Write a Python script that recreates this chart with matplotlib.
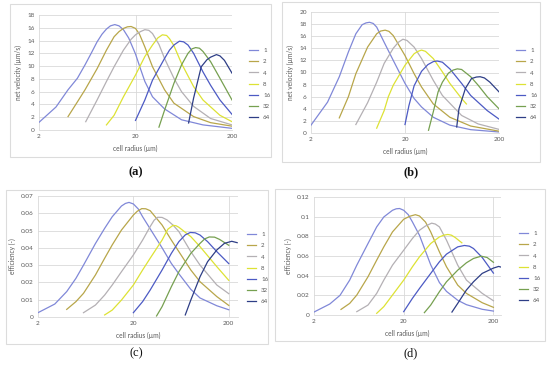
import matplotlib.pyplot as plt
from matplotlib.patches import Rectangle

series = ["1", "2", "4", "8", "16", "32", "64"]
colors = ["#8088d8", "#b8a64a", "#b4b0b4", "#dde234", "#4c5ac4", "#76a050", "#2e3e86"]

# (a) net velocity
a_x = [
    [2, 3, 4, 5, 6, 7, 8, 9, 10, 11, 12.2, 13.5, 15, 17, 20, 22.5, 25, 30, 40, 60, 100, 200],
    [4, 5, 6, 8, 10, 12, 13.5, 15, 16.5, 18, 20, 22, 25, 30, 40, 50, 80, 120, 200],
    [6.1, 8, 10, 12, 15, 18, 20, 22.5, 25, 27.5, 30, 35, 40, 50, 60, 80, 120, 200],
    [10, 12, 15, 20, 25, 30, 34, 38, 42, 45, 50, 60, 80, 100, 150, 200],
    [20, 25, 30, 40, 45, 50, 57, 63, 70, 80, 100, 120, 150, 200],
    [35, 40, 50, 60, 70, 77, 84, 92, 100, 120, 150, 200],
    [71, 80, 96, 110, 120, 138, 150, 167, 200],
]
a_y = [
    [1.2, 3.6, 6.3, 8.1, 10.2, 12.1, 13.8, 15.0, 15.8, 16.3, 16.5, 16.3, 15.7, 14.4, 11.9, 9.6, 7.6, 5.2, 3.3, 1.6, 0.8, 0.26],
    [2.1, 4.4, 6.3, 9.6, 12.5, 14.6, 15.4, 15.9, 16.15, 16.2, 15.9, 15.0, 13.0, 9.9, 6.3, 4.2, 2.1, 1.15, 0.6],
    [1.3, 4.7, 7.6, 9.9, 12.5, 14.2, 14.9, 15.4, 15.7, 15.6, 15.1, 13.4, 11.2, 8.1, 6.0, 3.7, 1.8, 0.8],
    [0.8, 2.3, 5.2, 8.6, 11.5, 13.3, 14.4, 14.9, 14.8, 14.3, 13.2, 10.4, 6.8, 4.7, 2.3, 1.3],
    [1.5, 4.7, 7.8, 11.2, 12.5, 13.3, 13.9, 13.8, 13.3, 12.0, 9.1, 7.0, 4.7, 2.45],
    [0.45, 3.1, 7.3, 10.2, 12.0, 12.7, 12.9, 12.8, 12.3, 10.7, 8.1, 4.7],
    [1.1, 5.0, 9.9, 11.0, 11.4, 11.8, 11.6, 10.9, 8.9],
]

# (b) net velocity
b_x = [
    [2, 3, 4, 5, 6, 7, 7.7, 8.4, 9.2, 10, 12, 15, 20, 25, 30, 40, 60, 100, 200],
    [4, 5, 6, 8, 10, 11, 12.3, 13.5, 15, 20, 25, 30, 40, 60, 100, 200],
    [6, 8, 10, 12, 15, 17, 19, 21, 25, 30, 40, 50, 80, 120, 200],
    [10, 12, 13.3, 15, 20, 25, 27.5, 30, 33, 40, 50, 60, 80, 90],
    [20, 22, 25, 30, 35, 40, 44, 50, 60, 80, 100, 150, 200],
    [35.6, 40, 45, 50, 58, 65, 72, 80, 100, 120, 150, 200],
    [71, 75, 88, 102, 115, 126, 140, 160, 200],
]
b_y = [
    [1.3, 5.1, 9.3, 13.4, 16.4, 17.9, 18.2, 18.3, 18.1, 17.5, 15.0, 12.0, 8.2, 5.7, 4.3, 2.6, 1.3, 0.55, 0.17],
    [2.5, 6.0, 9.8, 14.2, 16.4, 16.85, 17.0, 16.8, 16.1, 12.8, 9.8, 7.6, 4.8, 2.6, 1.15, 0.3],
    [1.4, 5.0, 8.4, 11.5, 14.0, 15.0, 15.5, 15.3, 14.2, 12.3, 8.7, 6.2, 2.9, 1.5, 0.6],
    [0.8, 3.7, 6.0, 7.9, 11.2, 13.1, 13.5, 13.7, 13.5, 12.3, 10.1, 8.2, 5.7, 4.8],
    [1.4, 4.5, 7.8, 10.2, 11.3, 11.8, 11.9, 11.7, 10.6, 8.2, 6.2, 3.7, 2.3],
    [0.45, 3.5, 6.8, 8.4, 9.9, 10.4, 10.6, 10.5, 9.3, 7.9, 6.0, 4.0],
    [1.0, 4.0, 7.4, 9.0, 9.25, 9.3, 9.1, 8.4, 6.8],
]

# (c) efficiency
c_x = [
    [2, 3, 4, 5, 6, 8, 10, 12, 15, 16.5, 18, 20, 22.5, 25, 30, 40, 50, 60, 80, 100, 150, 200],
    [4, 5, 6, 8, 10, 12, 15, 20, 22, 24.5, 27, 30, 40, 50, 60, 80, 100, 150, 200],
    [6, 8, 10, 12, 15, 20, 25, 30, 33, 36, 40, 45, 52, 60, 80, 100, 150, 200],
    [10, 12, 15, 20, 25, 30, 40, 46, 52, 56, 60, 80, 100, 150, 200],
    [20, 25, 30, 40, 50, 60, 70, 79, 89, 100, 120, 150, 200],
    [35, 40, 50, 60, 80, 100, 112, 125, 142, 160, 200],
    [70, 80, 100, 120, 150, 180, 215, 245],
]
c_y = [
    [0.0025, 0.0075, 0.0147, 0.0224, 0.030, 0.0425, 0.0513, 0.058, 0.0642, 0.0657, 0.0663, 0.0654, 0.0625, 0.058, 0.051, 0.040, 0.031, 0.025, 0.016, 0.011, 0.0065, 0.0042],
    [0.0044, 0.0089, 0.0137, 0.0243, 0.034, 0.0417, 0.0503, 0.059, 0.0612, 0.0627, 0.0626, 0.0615, 0.0532, 0.0445, 0.0378, 0.0272, 0.0204, 0.0118, 0.0067],
    [0.0025, 0.0069, 0.0127, 0.0185, 0.0262, 0.0359, 0.0445, 0.0523, 0.0560, 0.0577, 0.0576, 0.0562, 0.0532, 0.0494, 0.0378, 0.030, 0.0185, 0.0135],
    [0.0012, 0.004, 0.0098, 0.0185, 0.0272, 0.034, 0.0445, 0.0508, 0.053, 0.0528, 0.0519, 0.0465, 0.0407, 0.0291, 0.0212],
    [0.0025, 0.0089, 0.0156, 0.0272, 0.0368, 0.0436, 0.0475, 0.0489, 0.0487, 0.0474, 0.0436, 0.0378, 0.0309],
    [0.0006, 0.006, 0.0175, 0.0262, 0.0368, 0.0426, 0.0452, 0.0463, 0.0462, 0.0449, 0.0415],
    [0.0012, 0.0098, 0.0233, 0.032, 0.0388, 0.0426, 0.0438, 0.043],
]

# (d) efficiency
d_x = [
    [2, 3, 3.9, 5, 6, 8, 10, 12, 15, 16.5, 18, 20, 22.5, 25, 30, 40, 50, 60, 80, 100, 150, 200],
    [4, 5, 6, 8, 10, 12, 15, 20, 23.5, 27, 30, 35, 40, 50, 60, 80, 100, 150, 200],
    [6, 8, 10, 12, 15, 20, 25, 30, 35, 41, 45, 50, 60, 80, 100, 150, 200],
    [10, 12, 15, 20, 25, 30, 40, 50, 56, 62, 68, 75, 89],
    [20, 25, 30, 40, 50, 60, 80, 95, 108, 120, 150, 200],
    [34, 40, 50, 60, 80, 100, 120, 146, 170, 200],
    [69, 80, 100, 120, 150, 200, 229, 243],
]
d_y = [
    [0.003, 0.0112, 0.020, 0.0355, 0.0507, 0.0727, 0.0896, 0.0997, 0.1065, 0.108, 0.1083, 0.1065, 0.102, 0.0947, 0.081, 0.051, 0.033, 0.024, 0.015, 0.0105, 0.0058, 0.004],
    [0.0057, 0.0118, 0.0203, 0.0389, 0.0558, 0.0693, 0.0845, 0.0974, 0.1005, 0.102, 0.1007, 0.0945, 0.0845, 0.0642, 0.049, 0.0304, 0.022, 0.0125, 0.0078],
    [0.0034, 0.0101, 0.022, 0.0355, 0.0507, 0.0659, 0.0778, 0.0862, 0.0905, 0.0934, 0.0925, 0.0896, 0.0761, 0.0507, 0.0355, 0.022, 0.0145],
    [0.0017, 0.0085, 0.0203, 0.0355, 0.049, 0.0592, 0.0727, 0.0794, 0.0812, 0.0819, 0.0812, 0.0788, 0.0734],
    [0.0034, 0.0169, 0.027, 0.0423, 0.0541, 0.0619, 0.0693, 0.0707, 0.0700, 0.0676, 0.0585, 0.0426],
    [0.0024, 0.0101, 0.0237, 0.0338, 0.0456, 0.0531, 0.0575, 0.0598, 0.0585, 0.0536],
    [0.003, 0.0118, 0.0254, 0.0338, 0.0423, 0.0477, 0.0494, 0.0487],
]

W, H = 550, 373
GRID = "#d9d9d9"
TXT = "#595959"
plt.rcParams["font.family"] = ["Lato", "DejaVu Sans"]

fig = plt.figure(figsize=(W / 100, H / 100), dpi=100)


def px_axes(x0, x1, y0, y1):
    # pixel box (top-left origin) -> figure axes
    return fig.add_axes([x0 / W, 1 - y1 / H, (x1 - x0) / W, (y1 - y0) / H])


def frame(x0, x1, y0, y1):
    fig.patches.append(Rectangle((x0 / W, 1 - y1 / H), (x1 - x0) / W, (y1 - y0) / H,
                                 transform=fig.transFigure, fill=False,
                                 edgecolor="#dcdcdc", lw=0.8))


panels = [
    # data, pixel plot box, xmax, ymax, ystep, ylabel, legend anchor, frame, tag
    (a_x, a_y, (39, 232, 15, 130), 200, 18, 2, "net velocity (µm/s)", (246, 84), (10, 271, 4, 157), "(a)", (136, 172)),
    (b_x, b_y, (311, 499, 12, 133), 200, 20, 2, "net velocity (µm/s)", (513, 84), (282, 540, 2, 162), "(b)", (411, 172)),
    (c_x, c_y, (38, 238, 196, 317), 250, 0.07, 0.01, "efficiency (-)", (244, 268), (6, 268, 190, 344), "(c)", (136, 353)),
    (d_x, d_y, (314, 501, 197, 315), 243, 0.12, 0.02, "efficiency (-)", (516, 267), (275, 545, 189, 341), "(d)", (411, 353)),
]

for xs, ys, box, xmax, ymax, ystep, ylab, leg, fr, tag, tagpos in panels:
    frame(*fr)
    ax = px_axes(*box)
    for i, name in enumerate(series):
        ax.plot(xs[i], ys[i], color=colors[i], lw=0.9, label=name,
                solid_joinstyle="round")
    ax.set_xscale("log")
    ax.set_xlim(2, xmax)
    ax.set_ylim(0, ymax)
    ax.set_xticks([2, 20, 200])
    ax.set_xticklabels(["2", "20", "200"])
    ax.xaxis.set_minor_locator(plt.NullLocator())
    n = int(round(ymax / ystep))
    yt = [round(k * ystep, 4) for k in range(n + 1)]
    ax.set_yticks(yt)
    ax.set_yticklabels(["{:g}".format(v) for v in yt])
    ax.grid(True, color=GRID, lw=0.6)
    ax.set_axisbelow(True)
    for s in ["top", "right", "left"]:
        ax.spines[s].set_visible(False)
    ax.spines["bottom"].set_color(GRID)
    ax.spines["bottom"].set_linewidth(0.6)
    ax.tick_params(length=0, labelsize=4.6, labelcolor=TXT, pad=3)
    ax.set_xlabel("cell radius (µm)", fontsize=4.8, color=TXT, labelpad=4)
    ax.set_ylabel(ylab, fontsize=4.8, color=TXT, labelpad=4)
    ax.legend(loc="center left", bbox_to_anchor=(leg[0] / W, 1 - leg[1] / H),
              bbox_transform=fig.transFigure, frameon=False, fontsize=4.4,
              handlelength=1.4, handletextpad=0.9, labelspacing=0.95,
              borderpad=0, labelcolor=TXT)
    fig.text(tagpos[0] / W, 1 - tagpos[1] / H, tag, ha="center", va="center",
             fontsize=9, family="Liberation Serif",
             fontweight="bold" if tag in ("(a)", "(b)") else "normal", color="#111111")

fig.savefig("out.png", dpi=100, facecolor="white")
